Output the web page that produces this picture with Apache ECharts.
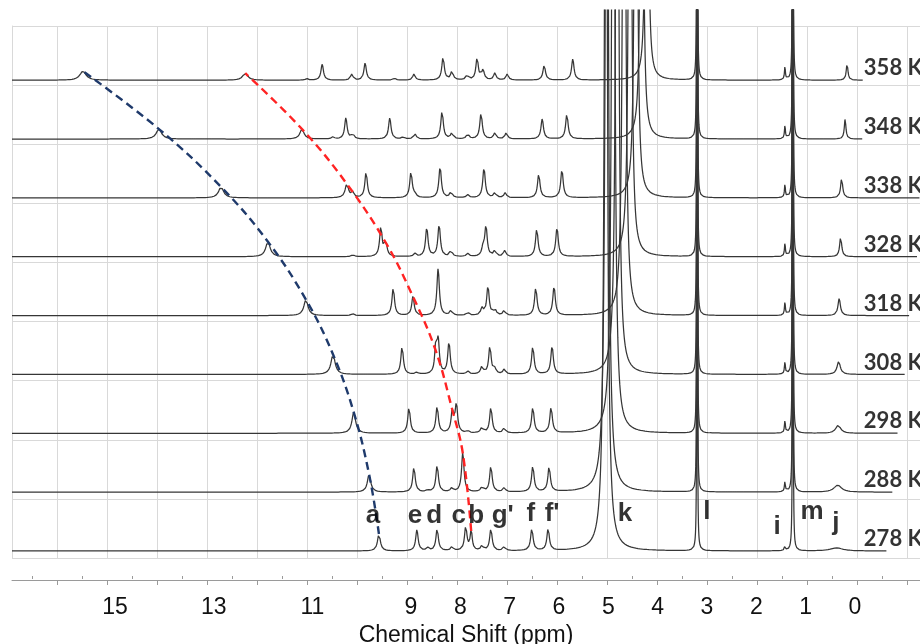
<!DOCTYPE html>
<html><head><meta charset="utf-8">
<script src="https://cdn.jsdelivr.net/npm/echarts@6/dist/echarts.min.js"></script>
<style>html,body{margin:0;padding:0;background:#fff}#c{width:920px;height:644px}</style>
</head><body><div id="c"></div>
<script>
// ---------------- data ----------------
// temperatures, bottom trace first
const temperatures = ['278 K','288 K','298 K','308 K','318 K','328 K','338 K','348 K','358 K'];

// peak a (blue dashed trend): shift (ppm), height, half-width (ppm)
const shiftA  = [9.65, 9.85, 10.16, 10.58, 11.13, 11.90, 12.85, 14.11, 15.65];
const heightA = [17, 18, 21, 20, 16, 15, 11, 10, 9];
const widthA  = [0.035, 0.04, 0.045, 0.05, 0.05, 0.055, 0.06, 0.065, 0.075];

// peak b (red dashed trend)
const shiftB  = [7.78, 7.95, 8.16, 8.50, 8.96, 9.51, 10.30, 11.21, 12.36];
const heightB = [20, 39, 23, 24, 19, 14, 14, 10, 7];
const widthB  = [0.025, 0.03, 0.03, 0.025, 0.03, 0.03, 0.04, 0.05, 0.06];

// peak k (water)
const shiftK  = [5.05, 5.03, 4.90, 4.82, 4.68, 4.56, 4.44, 4.32, 4.22];
const heightK = [1000, 1000, 1000, 1000, 1000, 1000, 1000, 1000, 1000];
const widthK  = [0.032, 0.032, 0.03, 0.028, 0.026, 0.024, 0.022, 0.02, 0.018];

// peak j
const shiftJ  = [0.37, 0.35, 0.34, 0.33, 0.32, 0.29, 0.27, 0.20, 0.16];
const heightJ = [3, 7, 8, 13, 17, 20, 20, 20, 17];
const widthJ  = [0.15, 0.09, 0.06, 0.04, 0.03, 0.025, 0.025, 0.02, 0.02];

// peak i
const heightI = [5, 10, 12, 12, 13, 13, 13, 13, 13];

// sharp solvent peaks l, m and small i
const shiftL = 3.20, heightL = 1000, widthL = 0.0045;
const shiftM = 1.26, heightM = 1000, widthM = 0.0045;
const shiftI = 1.42, widthI = 0.012;

// remaining aromatic peaks per trace: [ppm, height]
const peaks278 = [[8.88,21],[8.66,3],[8.47,22],[8.17,4],[7.89,24],[7.56,5],[7.38,22],[7.11,4],[6.55,22],[6.22,22]];
const peaks288 = [[8.94,25],[8.66,2],[8.47,27],[8.17,4],[7.56,5],[7.38,26],[7.11,4],[6.53,26],[6.20,25]];
const peaks298 = [[9.04,26],[8.47,27],[8.08,28],[7.85,2],[7.56,6],[7.38,26],[7.11,5],[6.53,26],[6.16,26]];
const peaks308 = [[9.18,28],[8.88,2],[8.45,33],[8.23,32],[7.85,3],[7.56,8],[7.40,28],[7.30,5],[7.11,5],[6.53,28],[6.14,28]];
const peaks318 = [[10.18,2],[9.36,28],[8.45,47],[8.19,5],[7.85,3],[7.56,7],[7.44,29],[7.30,6],[7.11,5],[6.47,28],[6.10,29]];
const peaks328 = [[10.18,2],[9.61,30],[8.92,3],[8.68,29],[8.43,32],[8.19,6],[7.85,3],[7.54,8],[7.48,30],[7.30,6],[7.10,6],[6.45,28],[6.04,29]];
const peaks338 = [[10.18,5],[9.91,26],[9.00,26],[8.92,3],[8.41,31],[8.19,6],[7.85,3],[7.52,30],[7.30,5],[7.09,5],[6.41,24],[5.94,28]];
const peaks348 = [[10.58,2],[10.32,21],[10.18,5],[9.43,21],[9.16,2],[8.92,5],[8.37,28],[8.17,6],[7.85,5],[7.58,26],[7.30,6],[7.07,6],[6.34,20],[5.84,25]];
const peaks358 = [[11.11,1.5],[10.80,16],[10.20,6],[9.93,17],[9.34,2],[8.94,6],[8.35,23],[8.17,9],[7.86,5],[7.66,22],[7.54,10],[7.30,7],[7.05,6],[6.30,15],[5.72,21]];
const rowPeaks = [peaks278, peaks288, peaks298, peaks308, peaks318, peaks328, peaks338, peaks348, peaks358];

// last recorded shift of each trace (ppm)
const spectrumEnd = [-0.65, -0.77, -0.87, -1.01, -1.11, -1.26, -1.32, -0.16, -0.16];

// axis tick labels
const tickLabels = [15, 13, 11, 9, 8, 7, 6, 5, 4, 3, 2, 1, 0];

// peak assignment letters
const peakNames = ['a','e','d','c','b',"g'",'f',"f'",'k','l','i','m','j'];
const peakNamePpm = [9.77, 8.92, 8.53, 8.03, 7.68, 7.14, 6.57, 6.14, 4.66, 3.00, 1.58, 0.87, 0.39];
const peakNameLift = [35, 35, 35, 35, 35, 35, 37, 37, 37, 39, 24, 39, 28];

// ---------------- layout constants ----------------
const PPM_LEFT = 17.088, PPM_RIGHT = -1.318;
const ROW_BASE = 9, ROW_STEP = 58.85, STEP = 0.005, DEFAULT_HW = 0.03;
const Y_MAX = 550;
const LABEL_PPM = -0.18, LABEL_LIFT = 12;
const gridMajor = [], gridMinor = [];
for (let v = 45; v <= 908; v += 50) gridMajor.push(v);
for (let v = 20; v <= 908; v += 50) gridMinor.push(v);

function base(i) { return ROW_BASE + i * ROW_STEP; }

function spectrum(i) {
  const peaks = rowPeaks[i].map(p => [p[0], p[1], DEFAULT_HW]).concat([
    [shiftA[i], heightA[i], widthA[i]],
    [shiftB[i], heightB[i], widthB[i]],
    [shiftK[i], heightK[i], widthK[i]],
    [shiftL, heightL, widthL],
    [shiftM, heightM, widthM],
    [shiftI, heightI[i], widthI],
    [shiftJ[i], heightJ[i], widthJ[i]]
  ]);
  const b = base(i);
  const out = [];
  for (let k = 0; ; k++) {
    const x = PPM_LEFT - k * STEP;
    if (x < spectrumEnd[i]) break;
    let y = b;
    for (const p of peaks) { const d = (x - p[0]) / p[2]; y += p[1] / (1 + d * d); }
    out.push([x, y]);
  }
  return out;
}

const series = [];
temperatures.forEach((t, i) => {
  series.push({
    type: 'line', name: t, xAxisIndex: 0, yAxisIndex: 0,
    data: spectrum(i), showSymbol: false, symbol: 'none', silent: true,
    lineStyle: { color: '#363636', width: 1.25 }, z: 3
  });
});
series.push({
  type: 'line', xAxisIndex: 0, yAxisIndex: 0, smooth: 0.4, symbol: 'none', silent: true,
  data: shiftA.map((s, i) => [s, base(i) + heightA[i]]),
  lineStyle: { color: '#1f3a6b', width: 2.4, type: [8, 5] }, z: 5
});
series.push({
  type: 'line', xAxisIndex: 0, yAxisIndex: 0, smooth: 0.4, symbol: 'none', silent: true,
  data: shiftB.map((s, i) => [s, base(i) + heightB[i]]),
  lineStyle: { color: '#ff2323', width: 2.4, type: [8, 5] }, z: 5
});
series.push({
  type: 'scatter', xAxisIndex: 0, yAxisIndex: 0, symbolSize: 0, silent: true, z: 6,
  data: temperatures.map((t, i) => ({ name: t, value: [LABEL_PPM, base(i) + LABEL_LIFT] })),
  label: { show: true, formatter: '{b}', position: [0, 0], align: 'left', verticalAlign: 'middle',
    fontFamily: 'Lato', fontWeight: 'bold', fontSize: 22, color: '#000' }
});
series.push({
  type: 'scatter', xAxisIndex: 0, yAxisIndex: 0, symbolSize: 0, silent: true, z: 6,
  data: peakNames.map((n, i) => ({ name: n, value: [peakNamePpm[i], base(0) + peakNameLift[i]] })),
  label: { show: true, formatter: '{b}', position: [0, 0], align: 'center', verticalAlign: 'middle',
    fontFamily: 'Liberation Sans', fontWeight: 'bold', fontSize: 26, color: '#000' }
});

const gridGray = '#d9d9d9';
const option = {
  animation: false,
  backgroundColor: '#ffffff',
  grid: [
    { left: 12, right: 0, top: 10, bottom: 84, containLabel: false, outerBoundsMode: 'none' },
    { left: 12, right: 0, top: 26, bottom: 86, containLabel: false, outerBoundsMode: 'none' },
    { left: 12, right: 0, top: 579, bottom: 64, containLabel: false, outerBoundsMode: 'none' }
  ],
  xAxis: [
    { gridIndex: 0, type: 'value', inverse: true, min: PPM_RIGHT, max: PPM_LEFT,
      axisLine: { show: false }, axisTick: { show: false }, splitLine: { show: false },
      axisLabel: { customValues: tickLabels, margin: 36, fontFamily: 'Liberation Sans', fontSize: 23, color: '#111' },
      name: 'Chemical Shift (ppm)', nameLocation: 'middle', nameGap: 59,
      nameTextStyle: { fontFamily: 'Liberation Sans', fontSize: 23, color: '#111' } },
    { gridIndex: 1, type: 'value', min: 0, max: 908,
      axisLine: { show: false }, axisLabel: { show: false },
      axisTick: { show: false, customValues: gridMajor },
      splitLine: { show: true, lineStyle: { color: gridGray, width: 1 } } },
    { gridIndex: 2, type: 'value', min: 0, max: 908,
      axisLine: { show: true, lineStyle: { color: '#9a9a9a', width: 1 } }, axisLabel: { show: false },
      axisTick: { show: true, customValues: gridMajor, length: 5, lineStyle: { color: '#9a9a9a' } },
      splitLine: { show: false } },
    { gridIndex: 2, type: 'value', min: 0, max: 908,
      axisLine: { show: false }, axisLabel: { show: false },
      axisTick: { show: true, customValues: gridMinor, length: 3, lineStyle: { color: '#9a9a9a' } },
      splitLine: { show: false } }
  ],
  yAxis: [
    { gridIndex: 0, type: 'value', min: 0, max: Y_MAX, show: false },
    { gridIndex: 1, type: 'value', min: 0, max: 9, interval: 1,
      axisLine: { show: true, lineStyle: { color: gridGray } }, axisTick: { show: false }, axisLabel: { show: false },
      splitLine: { show: true, lineStyle: { color: gridGray, width: 1 } } },
    { gridIndex: 2, type: 'value', min: 0, max: 1, show: false }
  ],
  series: series
};
const chart = echarts.init(document.getElementById('c'), null, { renderer: 'canvas' });
chart.setOption(option);
</script></body></html>
